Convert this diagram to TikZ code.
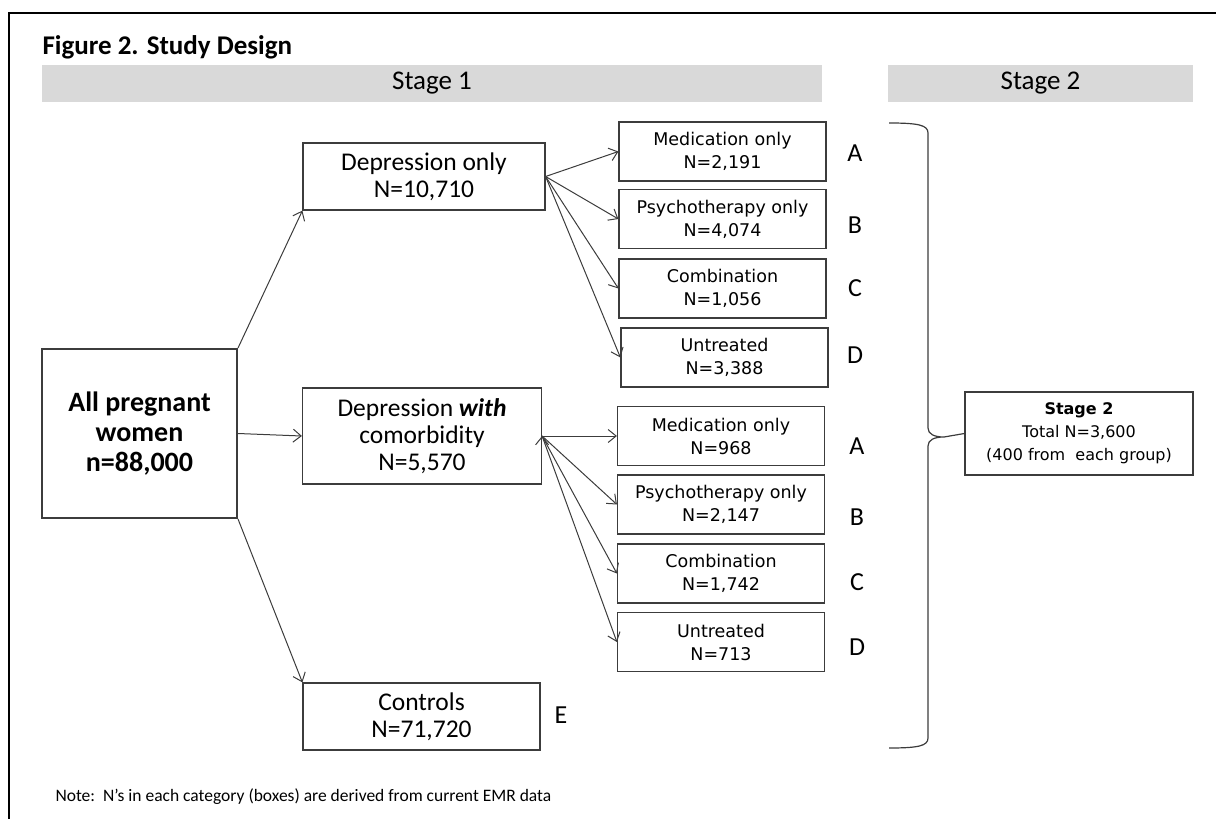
\documentclass[tikz,border=0pt]{standalone}
\usepackage{fontspec}
\setmainfont{Carlito}
\newfontfamily\cajafont{DejaVu Sans}
\usepackage{tikz}
\usetikzlibrary{
    positioning,
    arrows.meta
}
\definecolor{grisbarra}{HTML}{D9D9D9}
\definecolor{linea}{HTML}{3C3C3C}
\tikzset{
    >={Straight Barb[length=8pt,width=13pt]},
    grupo/.style={
        draw=linea,
        line width=1.2pt,
        align=center,
        inner sep=0pt,
        font=\fontsize{25.5}{27}\selectfont
    },
    subgrupo/.style={
        draw=linea,
        line width=1.2pt,
        minimum width=207pt,
        minimum height=59pt,
        align=center,
        inner sep=0pt,
        font=\cajafont\fontsize{17.5}{23}\selectfont
    },
    barra/.style={
        fill=grisbarra,
        minimum height=37pt,
        inner sep=0pt,
        font=\fontsize{27}{27}\selectfont
    },
    letra/.style={
        font=\fontsize{26}{26}\selectfont
    }
}

\begin{document}
\begin{tikzpicture}[
    x=1pt,
    y=-1pt,
    line width=1pt
]

    \useasboundingbox (0,0) rectangle (1216,819);

    % Marco
    \draw[line width=2pt] (9,819) -- (9,13) -- (1216,13);

    % Titulo y etapas
    \node[anchor=west, inner sep=0pt, font=\bfseries\fontsize{27}{27}\selectfont]
        (titulo) at (42,47) {Figure 2. Study Design};
    \node[barra, minimum width=780pt] (etapa1) at (432,83.5)  {Stage 1};
    \node[barra, minimum width=305pt] (etapa2) at (1040.5,83.5) {Stage 2};

    % Cajas principales
    \node[grupo, line width=2pt, minimum width=195pt, minimum height=169pt,
          font=\bfseries\fontsize{28}{30}\selectfont]
        (todas) at (139.5,433.5) {All pregnant\\women\\n=88,000};

    \node[grupo, minimum width=242pt, minimum height=67pt]
        (depSola) at (424,176.5) {Depression only\\N=10,710};
    \node[grupo, minimum width=239pt, minimum height=96pt]
        (depCom) at (422,436) {Depression \textbf{\textit{with}}\\comorbidity\\N=5,570};
    \node[grupo, minimum width=237pt, minimum height=67pt]
        (controles) at (421.5,716.5) {Controls\\N=71,720};

    % Subgrupos (depresion sola)
    \node[subgrupo] (med1)  at (722.5,151.5) {Medication only\\N=2,191};
    \node[subgrupo] (psi1)  at (722.5,219)   {Psychotherapy only\\N=4,074};
    \node[subgrupo] (comb1) at (722.5,288.5) {Combination\\N=1,056};
    \node[subgrupo] (sin1)  at (724.5,357.5) {Untreated\\N=3,388};

    % Subgrupos (con comorbilidad)
    \node[subgrupo] (med2)  at (721,436)   {Medication only\\N=968};
    \node[subgrupo] (psi2)  at (721,504.5) {Psychotherapy only\\N=2,147};
    \node[subgrupo] (comb2) at (721,573.5) {Combination\\N=1,742};
    \node[subgrupo] (sin2)  at (721,642)   {Untreated\\N=713};

    % Letras
    \node[letra] (A1) at (855,153) {A};
    \node[letra] (B1) at (855,225) {B};
    \node[letra] (C1) at (855,288) {C};
    \node[letra] (D1) at (855,355) {D};
    \node[letra] (A2) at (857,446) {A};
    \node[letra] (B2) at (857,517) {B};
    \node[letra] (C2) at (857,582) {C};
    \node[letra] (D2) at (857,647) {D};
    \node[letra] (E)  at (561,715) {E};

    % Etapa 2
    \node[draw=linea, line width=1.2pt, minimum width=228pt, minimum height=83pt,
          align=center, inner sep=0pt, font=\cajafont\fontsize{16}{23}\selectfont]
        (etapaDos) at (1079,433.5)
        {{\bfseries Stage 2}\\Total N=3,600\\(400 from\ \ each group)};

    % Llave
    \coordinate (punta) at (944,437);
    \draw[draw=linea, line width=1.2pt]
        (889,123) .. controls (918,123) and (928,125) .. (928,133)
        -- (928,428) .. controls (928,434) and (934,437) .. (punta)
        .. controls (934,437) and (928,440) .. (928,446)
        -- (928,738) .. controls (928,746) and (918,748) .. (889,748);
    \draw[draw=linea, line width=1.2pt] (punta) -- (etapaDos.west);

    % Flechas
    \path[->, draw=linea]
        (todas.north east) edge (depSola.south west)
        (todas.east)       edge (depCom.west)
        (todas.south east) edge (controles.north west)

        (depSola.east)
            edge (med1.west)
            edge (psi1.west)
            edge (comb1.west)
            edge (sin1.west)

        (depCom.east)
            edge (med2.west)
            edge (psi2.west)
            edge (comb2.west)
            edge (sin2.west);

    % Nota
    \node[anchor=west, inner sep=0pt, font=\fontsize{17.5}{17.5}\selectfont]
        (nota) at (55,797)
        {Note:\ \ N’s in each category (boxes) are derived from current EMR data};

\end{tikzpicture}
\end{document}
